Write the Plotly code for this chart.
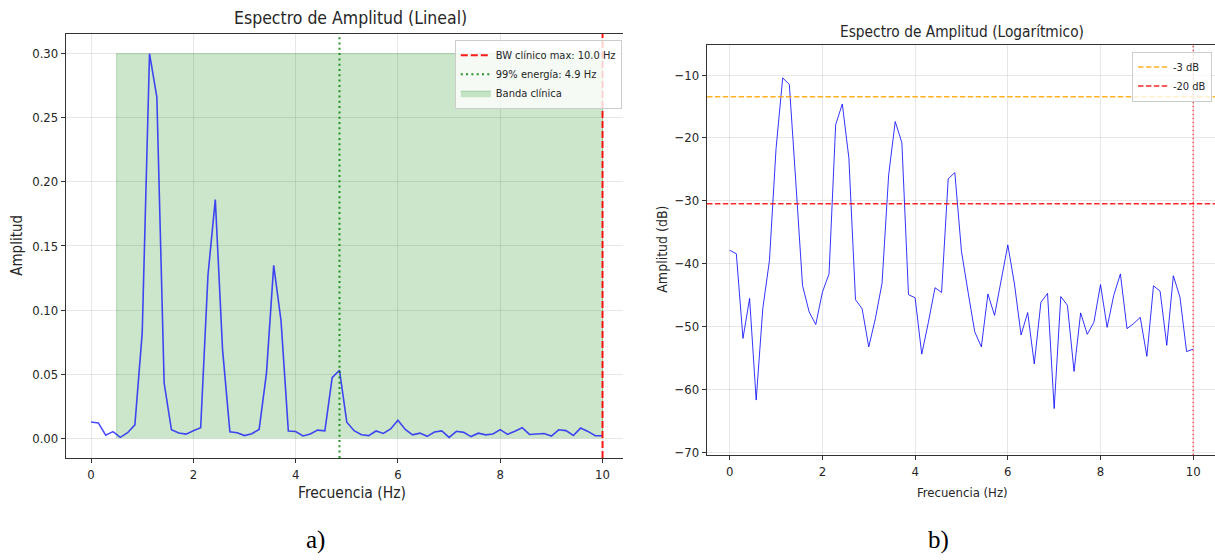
import plotly.graph_objects as go

# ---------------- data ----------------
freqs = [0.000, 0.143, 0.286, 0.429, 0.571, 0.714, 0.857, 1.000, 1.143, 1.286,
         1.429, 1.571, 1.714, 1.857, 2.000, 2.143, 2.286, 2.429, 2.571, 2.714,
         2.857, 3.000, 3.143, 3.286, 3.429, 3.571, 3.714, 3.857, 4.000, 4.143,
         4.286, 4.429, 4.571, 4.714, 4.857, 5.000, 5.143, 5.286, 5.429, 5.571,
         5.714, 5.857, 6.000, 6.143, 6.286, 6.429, 6.571, 6.714, 6.857, 7.000,
         7.143, 7.286, 7.429, 7.571, 7.714, 7.857, 8.000, 8.143, 8.286, 8.429,
         8.571, 8.714, 8.857, 9.000, 9.143, 9.286, 9.429, 9.571, 9.714, 9.857,
         10.000]

amp_db = [-37.85, -38.4, -51.85, -45.5, -61.65, -47.1, -39.5, -21.7, -10.46, -11.5,
          -27.3, -43.45, -47.65, -49.65, -44.5, -41.6, -17.9, -14.6, -23.2, -45.7,
          -47.15, -53.2, -48.7, -43.1, -25.9, -17.4, -20.75, -44.9, -45.4, -54.35,
          -49.3, -43.8, -44.55, -26.5, -25.5, -38.0, -44.5, -50.8, -53.2, -44.8,
          -48.2, -42.7, -37.0, -43.2, -51.3, -47.75, -55.9, -46.1, -44.7, -63.0,
          -45.2, -46.6, -57.1, -47.8, -51.2, -49.3, -43.3, -50.1, -45.0, -41.6,
          -50.3, -49.5, -48.5, -54.7, -43.5, -44.35, -52.95, -41.9, -45.3, -53.95,
          -53.55]

# linear amplitude (same spectrum, dB = 20*log10(A))
amp_lin = [10 ** (v / 20.0) for v in amp_db]

bw_clinico = 10.0
f_99 = 4.857
band_low, band_high = 0.5, 10.0
band_top = max(amp_lin)
db_3 = max(amp_db) - 3
db_20 = max(amp_db) - 20

x_ticks = [0, 2, 4, 6, 8, 10]
y_ticks_lin = [0.00, 0.05, 0.10, 0.15, 0.20, 0.25, 0.30]
y_ticks_db = [-70, -60, -50, -40, -30, -20, -10]

# ---------------- figure ----------------
W, H = 1215, 560
FONT = "DejaVu Sans Condensed, DejaVu Sans, sans-serif"
TXT = "#262626"

fig = go.Figure()

# band (linear)
fig.add_trace(go.Scatter(
    x=[band_low, band_low, band_high, band_high], y=[0, band_top, band_top, 0],
    fill="toself", fillcolor="rgba(0,128,0,0.2)", mode="lines",
    line=dict(color="rgba(0,128,0,0.25)", width=1),
    name="Banda clínica", legend="legend", legendrank=3,
    xaxis="x", yaxis="y", hoverinfo="skip"))

fig.add_trace(go.Scatter(
    x=freqs, y=amp_lin, mode="lines",
    line=dict(color="rgba(0,0,255,0.7)", width=1.6),
    showlegend=False, xaxis="x", yaxis="y"))

fig.add_trace(go.Scatter(
    x=freqs, y=amp_db, mode="lines",
    line=dict(color="rgba(0,0,255,0.8)", width=1),
    showlegend=False, xaxis="x2", yaxis="y2"))

# vertical lines (linear plot)
fig.add_shape(type="line", x0=bw_clinico, x1=bw_clinico, y0=0, y1=1,
              xref="x", yref="y domain",
              line=dict(color="rgba(255,0,0,0.9)", width=2, dash="7px,3px"),
              showlegend=True, name="BW clínico max: 10.0 Hz",
              legend="legend", legendrank=1)
fig.add_shape(type="line", x0=f_99, x1=f_99, y0=0, y1=1,
              xref="x", yref="y domain",
              line=dict(color="rgba(0,128,0,0.85)", width=2, dash="2px,3.3px"),
              showlegend=True, name="99% energía: 4.9 Hz",
              legend="legend", legendrank=2)

# log plot lines
fig.add_shape(type="line", x0=0, x1=1, y0=db_3, y1=db_3,
              xref="x2 domain", yref="y2",
              line=dict(color="rgba(255,165,0,0.85)", width=1.5, dash="5.5px,2.4px"),
              showlegend=True, name="-3 dB", legend="legend2", legendrank=1)
fig.add_shape(type="line", x0=0, x1=1, y0=db_20, y1=db_20,
              xref="x2 domain", yref="y2",
              line=dict(color="rgba(255,0,0,0.85)", width=1.5, dash="5.5px,2.4px"),
              showlegend=True, name="-20 dB", legend="legend2", legendrank=2)
fig.add_shape(type="line", x0=bw_clinico, x1=bw_clinico, y0=0, y1=1,
              xref="x2", yref="y2 domain",
              line=dict(color="rgba(255,0,0,0.7)", width=1.5, dash="1.5px,2.5px"))

axis_common = dict(
    showline=True, linecolor="#333333", linewidth=1.3,
    ticks="outside", ticklen=4, tickcolor="#333333", tickwidth=1,
    showgrid=True, gridcolor="rgba(176,176,176,0.3)", gridwidth=1,
    zeroline=False, tickfont=dict(family=FONT, size=13, color=TXT),
)

fig.update_layout(
    width=W, height=H, margin=dict(l=0, r=0, t=0, b=0),
    paper_bgcolor="white", plot_bgcolor="white",
    font=dict(family=FONT, color=TXT),
    xaxis=dict(domain=[66 / W, 623 / W], range=[-0.49, 10.40],
               tickvals=x_ticks, anchor="y", mirror=True, **axis_common),
    yaxis=dict(domain=[1 - 462 / H, 1 - 34 / H], range=[-0.0152, 0.3155],
               tickvals=y_ticks_lin, tickformat=".2f", anchor="x", **axis_common),
    xaxis2=dict(domain=[707 / W, 1.0], range=[-0.49, 10.47],
                tickvals=x_ticks, anchor="y2", mirror=True, **axis_common),
    yaxis2=dict(domain=[1 - 459.3 / H, 1 - 45.7 / H], range=[-70.41, -5.28],
                tickvals=y_ticks_db, anchor="x2", **axis_common),
    legend=dict(x=623 / W - 0.001, xanchor="right", y=1 - 40 / H, yanchor="top",
                bgcolor="rgba(255,255,255,0.8)", bordercolor="#cccccc", borderwidth=1,
                font=dict(family=FONT, size=11, color=TXT), itemwidth=30,
                tracegroupgap=0),
    legend2=dict(x=1212 / W, xanchor="right", y=1 - 52 / H, yanchor="top",
                 bgcolor="rgba(255,255,255,0.8)", bordercolor="#cccccc", borderwidth=1,
                 font=dict(family=FONT, size=11, color=TXT), itemwidth=30,
                 tracegroupgap=0),
)

ann = []
def txt(text, x, y, size, angle=0, family=FONT, color=TXT):
    ann.append(dict(text=text, x=x / W, y=1 - y / H, xref="paper", yref="paper",
                    showarrow=False, textangle=angle, xanchor="center", yanchor="middle",
                    font=dict(family=family, size=size, color=color)))

txt("Espectro de Amplitud (Lineal)", 350, 18, 17.5)
txt("Espectro de Amplitud (Logarítmico)", 962, 32, 15.3)
txt("Amplitud", 17, 248, 15, angle=-90)
txt("Amplitud (dB)", 662, 252, 14, angle=-90)
txt("Frecuencia (Hz)", 352, 497, 15.5)
txt("Frecuencia (Hz)", 962, 497, 13)
txt("a)", 315, 545, 25, family="Liberation Serif, serif", color="black")
txt("b)", 938, 545, 25, family="Liberation Serif, serif", color="black")
fig.update_layout(annotations=ann)

fig.write_html("out.html")
